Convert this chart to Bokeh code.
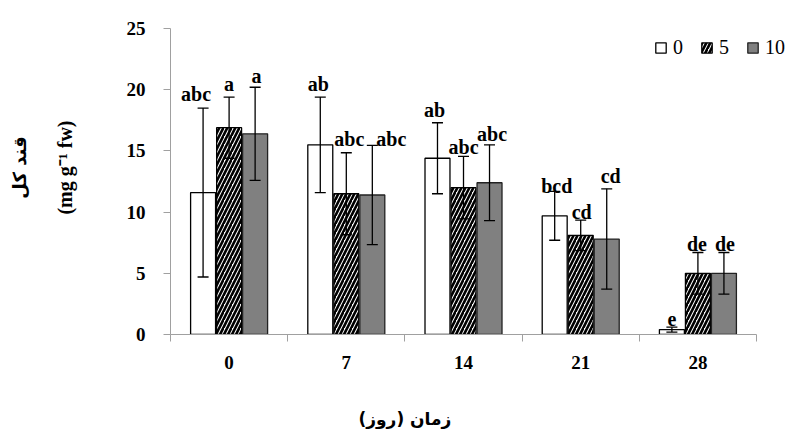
from bokeh.plotting import figure
from bokeh.models import (ColumnDataSource, Range1d, FixedTicker, Whisker, TeeHead,
                          Legend, LegendItem, LinearAxis, Title)
from bokeh.core.properties import value
from bokeh.embed import file_html
from bokeh.resources import INLINE

# ---- data ----
days = ["0", "7", "14", "21", "28"]
levels = ["0", "5", "10"]
mean_0 = [11.6, 15.5, 14.4, 9.7, 0.4]
err_0 = [6.9, 3.9, 2.9, 2.0, 0.2]
mean_5 = [16.9, 11.5, 12.0, 8.1, 5.0]
err_5 = [2.5, 3.35, 2.55, 1.25, 1.7]
mean_10 = [16.4, 11.4, 12.4, 7.8, 5.0]
err_10 = [3.8, 4.05, 3.1, 4.1, 1.7]
letters_0 = ["abc", "ab", "ab", "bcd", "e"]
letters_5 = ["a", "abc", "abc", "cd", "de"]
letters_10 = ["a", "abc", "abc", "cd", "de"]
y_ticks = [0, 5, 10, 15, 20, 25]
y_max = 25

# ---- label nudges (pixels, styling only) ----
dx = {"0": [-7, -2, -3, 2, 0], "5": [0, 3, 0, 1, -1], "10": [1.5, 19, 2.5, 4, 1]}
gap = {"0": [13.7, 13.3, 12.3, 5, 8.6], "5": [13.3, 14, 9, 7.6, 8.4], "10": [11.7, 6.6, 11, 13.3, 8.4]}

series = [
    ("0", mean_0, err_0, letters_0, -0.222, dict(fill_color="white", line_color="black")),
    ("5", mean_5, err_5, letters_5, 0.0, dict(fill_color="white", line_color="black",
                                               hatch_pattern="/", hatch_color="black",
                                               hatch_weight=2.6, hatch_scale=8)),
    ("10", mean_10, err_10, letters_10, 0.222, dict(fill_color="#808080", line_color="#222222")),
]

n = len(days)
# frame runs to the canvas top/right edge so the legend is not clipped;
# axis lines are bounded to the data extent
p = figure(width=790, height=432, output_backend="svg", toolbar_location=None,
           x_range=Range1d(0, n + 0.29), y_range=Range1d(0, y_max + 2.29),
           min_border_left=170, min_border_right=0, min_border_top=0, min_border_bottom=98)
p.outline_line_color = None
p.xgrid.grid_line_color = None
p.ygrid.grid_line_color = None
p.background_fill_color = "white"

SERIF = value("Liberation Serif")
items = []
for name, means, errs, letters, off, style in series:
    xs = [i + 0.5 + off for i in range(n)]
    src = ColumnDataSource(dict(
        x=xs, top=means,
        upper=[m + e for m, e in zip(means, errs)],
        lower=[m - e for m, e in zip(means, errs)],
        letter=letters,
        dx=dx[name],
        dy=[-g for g in gap[name]],
    ))
    r = p.vbar(x="x", top="top", width=0.213, source=src, line_width=1.3, **style)
    items.append(LegendItem(label=name, renderers=[r]))
    w = Whisker(source=src, base="x", upper="upper", lower="lower",
                line_color="black", line_width=1.3, level="overlay",
                upper_head=TeeHead(size=11, line_color="black", line_width=1.3),
                lower_head=TeeHead(size=11, line_color="black", line_width=1.3))
    p.add_layout(w)
    p.text(x="x", y="upper", text="letter", source=src, x_offset="dx", y_offset="dy",
           text_font=SERIF, text_font_style="bold", text_font_size="20px",
           text_align="center", text_baseline="alphabetic", text_color="black")

# x axis
ax = p.xaxis[0]
ax.bounds = (0, n)
ax.ticker = FixedTicker(ticks=[i + 0.5 for i in range(n)], minor_ticks=list(range(n + 1)))
ax.major_label_overrides = {i + 0.5: d for i, d in enumerate(days)}
ax.major_tick_line_color = None
ax.minor_tick_in = 0
ax.minor_tick_out = 7
ax.minor_tick_line_color = "#a0a0a0"
ax.axis_line_color = "#a0a0a0"
ax.major_label_standoff = 14
ax.major_label_text_font = "Liberation Serif"
ax.major_label_text_font_style = "bold"
ax.major_label_text_font_size = "19px"
ax.major_label_text_color = "black"

# invisible spacer axis below, pushes the x title down
spacer = LinearAxis(ticker=FixedTicker(ticks=[]), axis_line_color=None,
                    major_tick_line_color=None, minor_tick_line_color=None,
                    major_tick_out=0, major_tick_in=0, minor_tick_out=0, minor_tick_in=0,
                    major_label_text_font_size="0px", major_label_standoff=0,
                    axis_label=" ", axis_label_standoff=21,
                    axis_label_text_font_size="10px")
p.add_layout(spacer, "below")

# x title (Persian), shifted left of centre as in the original
p.add_layout(Title(text="زمان (روز)", align="left", offset=188, standoff=0,
                   text_font="DejaVu Sans", text_font_style="bold",
                   text_font_size="17px", text_color="black"), "below")

# y axis
ay = p.yaxis[0]
ay.bounds = (0, y_max)
ay.ticker = FixedTicker(ticks=y_ticks)
ay.minor_tick_line_color = None
ay.major_tick_in = 0
ay.major_tick_out = 7
ay.major_tick_line_color = "#a0a0a0"
ay.axis_line_color = "#a0a0a0"
ay.major_label_standoff = 18
ay.major_label_text_font = "Liberation Serif"
ay.major_label_text_font_style = "bold"
ay.major_label_text_font_size = "19px"
ay.major_label_text_color = "black"
ay.axis_label = "(mg g\u207b\u00b9 fw)"
ay.axis_label_standoff = 48
ay.axis_label_text_font = "Liberation Serif"
ay.axis_label_text_font_style = "bold"
ay.axis_label_text_font_size = "20px"
ay.axis_label_text_color = "black"

# outer y title (Persian)
ay2 = LinearAxis(ticker=FixedTicker(ticks=[]), axis_line_color=None,
                 major_tick_line_color=None, minor_tick_line_color=None,
                 major_tick_out=0, major_tick_in=0, minor_tick_out=0, minor_tick_in=0,
                 major_label_text_font_size="0px", major_label_standoff=0,
                 axis_label="قند کل", axis_label_standoff=21,
                 axis_label_text_font="DejaVu Sans", axis_label_text_font_style="bold",
                 axis_label_text_font_size="18px", axis_label_text_color="black")
p.add_layout(ay2, "left")

legend = Legend(items=items, orientation="horizontal", location=(484, 275),
                glyph_width=13, glyph_height=13, label_standoff=6, spacing=17,
                label_width=8, label_height=13, padding=0, margin=0,
                border_line_color=None, background_fill_alpha=0,
                label_text_font="Liberation Serif", label_text_font_size="20px",
                label_text_color="black")
p.add_layout(legend)

open("out.html", "w").write(file_html(p, INLINE))
